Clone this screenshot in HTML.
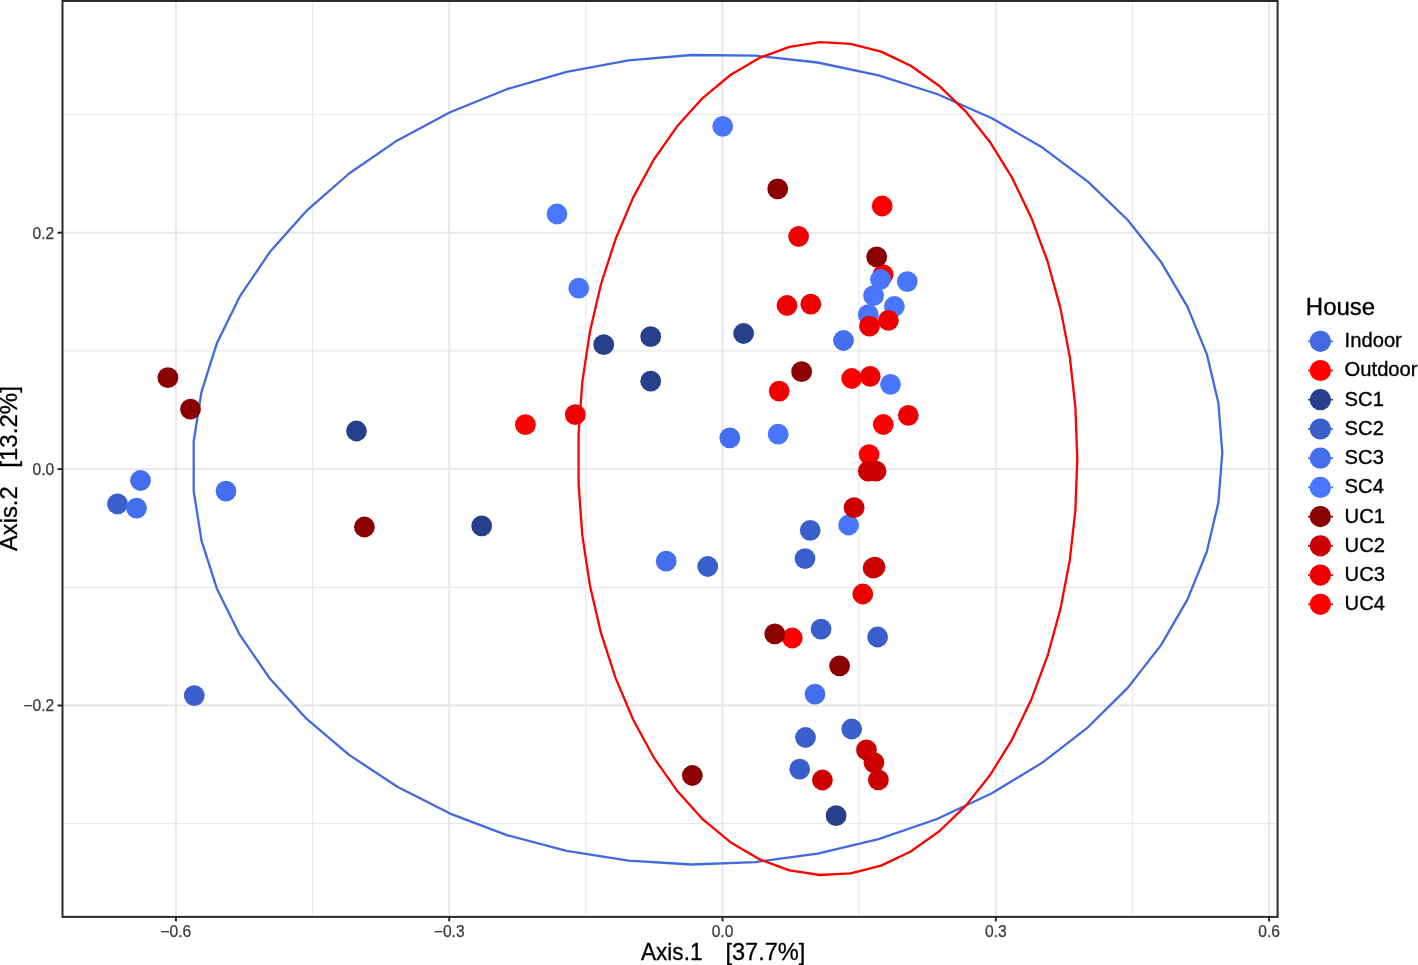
<!DOCTYPE html>
<html lang="en"><head><meta charset="utf-8"><title>PCoA plot</title>
<style>html,body{margin:0;padding:0;background:#fff}body{width:1418px;height:965px;overflow:hidden}svg{display:block}</style></head>
<body>
<svg width="1418" height="965" viewBox="0 0 1418 965" font-family="'Liberation Sans', Arial, Helvetica, sans-serif">
<rect width="1418" height="965" fill="#fff"/>
<g stroke="#e9e9e9" stroke-width="1.2">
<line x1="312.6" y1="1" x2="312.6" y2="916.9"/>
<line x1="585.9" y1="1" x2="585.9" y2="916.9"/>
<line x1="859.1" y1="1" x2="859.1" y2="916.9"/>
<line x1="1132.5" y1="1" x2="1132.5" y2="916.9"/>
<line x1="62.5" y1="114.5" x2="1277.6" y2="114.5"/>
<line x1="62.5" y1="350.9" x2="1277.6" y2="350.9"/>
<line x1="62.5" y1="587.3" x2="1277.6" y2="587.3"/>
<line x1="62.5" y1="823.7" x2="1277.6" y2="823.7"/>
</g>
<g stroke="#e8e8e8" stroke-width="2">
<line x1="175.9" y1="1" x2="175.9" y2="916.9"/>
<line x1="449.2" y1="1" x2="449.2" y2="916.9"/>
<line x1="722.5" y1="1" x2="722.5" y2="916.9"/>
<line x1="995.8" y1="1" x2="995.8" y2="916.9"/>
<line x1="1269.1" y1="1" x2="1269.1" y2="916.9"/>
<line x1="62.5" y1="232.7" x2="1277.6" y2="232.7"/>
<line x1="62.5" y1="469.1" x2="1277.6" y2="469.1"/>
<line x1="62.5" y1="705.5" x2="1277.6" y2="705.5"/>
</g>
<polygon points="1222.3,452.7 1218.4,502.5 1206.8,551.7 1187.5,599.4 1161.0,645.1 1127.7,687.9 1087.9,727.3 1042.4,762.6 991.9,793.3 937.0,819.0 878.6,839.2 817.6,853.6 755.0,862.1 691.6,864.5 628.5,860.7 566.6,850.8 506.8,835.1 450.1,813.6 397.3,786.7 349.1,754.9 306.4,718.7 269.8,678.5 239.8,634.9 216.9,588.7 201.5,540.6 193.7,491.2 193.7,441.4 201.5,391.8 216.9,343.2 239.8,296.4 269.8,252.1 306.4,210.9 349.1,173.5 397.3,140.4 450.1,112.2 506.8,89.2 566.6,71.9 628.5,60.4 691.6,55.0 755.0,55.7 817.6,62.5 878.6,75.3 937.0,94.0 991.9,118.2 1042.4,147.6 1087.9,181.7 1127.7,220.0 1161.0,261.9 1187.5,306.9 1206.8,354.1 1218.4,403.0 1222.3,452.7" fill="none" stroke="#4169E1" stroke-width="2.3" stroke-linejoin="round"/>
<polygon points="1077.3,458.6 1075.4,509.8 1069.8,560.2 1060.4,609.1 1047.6,655.7 1031.4,699.3 1012.2,739.3 990.1,775.0 965.6,805.9 939.0,831.5 910.7,851.5 881.1,865.6 850.7,873.4 820.0,875.0 789.4,870.3 759.4,859.3 730.4,842.2 702.9,819.4 677.3,791.1 653.9,757.7 633.2,719.8 615.5,677.9 600.9,632.7 589.8,584.9 582.3,535.2 578.6,484.2 578.6,433.0 582.3,382.0 589.8,332.3 600.9,284.5 615.5,239.3 633.2,197.4 653.9,159.5 677.3,126.1 702.9,97.8 730.4,75.0 759.4,57.9 789.4,46.9 820.0,42.2 850.7,43.8 881.1,51.6 910.7,65.7 939.0,85.7 965.6,111.3 990.1,142.2 1012.2,177.9 1031.4,217.9 1047.6,261.5 1060.4,308.1 1069.8,357.0 1075.4,407.4 1077.3,458.6" fill="none" stroke="#FF0000" stroke-width="2.3" stroke-linejoin="round"/>
<g>
<circle cx="883.1" cy="274.6" r="10.4" fill="#FF0000"/>
<circle cx="873.6" cy="295.7" r="10.4" fill="#4876FF"/>
<circle cx="880.5" cy="279.5" r="10.4" fill="#4876FF"/>
<circle cx="907.3" cy="281.6" r="10.4" fill="#4876FF"/>
<circle cx="894.4" cy="306.3" r="10.4" fill="#4876FF"/>
<circle cx="868.3" cy="314.7" r="10.4" fill="#4876FF"/>
<circle cx="888.4" cy="320.3" r="10.4" fill="#EE0000"/>
<circle cx="869.5" cy="326.2" r="10.4" fill="#EE0000"/>
<circle cx="876.7" cy="256.9" r="10.4" fill="#8B0000"/>
<circle cx="851.7" cy="378.5" r="10.4" fill="#FF0000"/>
<circle cx="890.5" cy="384.3" r="10.4" fill="#4876FF"/>
<circle cx="870.2" cy="376.3" r="10.4" fill="#EE0000"/>
<circle cx="848.6" cy="525" r="10.4" fill="#4876FF"/>
<circle cx="854.1" cy="507.6" r="10.4" fill="#CD0000"/>
<circle cx="792.3" cy="638" r="10.4" fill="#FF0000"/>
<circle cx="774.8" cy="633.8" r="10.4" fill="#8B0000"/>
<circle cx="167.9" cy="377.7" r="10.4" fill="#8B0000"/>
<circle cx="190.5" cy="409.2" r="10.4" fill="#8B0000"/>
<circle cx="364.4" cy="527" r="10.4" fill="#8B0000"/>
<circle cx="777.7" cy="188.9" r="10.4" fill="#8B0000"/>
<circle cx="801.6" cy="371.7" r="10.4" fill="#8B0000"/>
<circle cx="839.6" cy="665.8" r="10.4" fill="#8B0000"/>
<circle cx="692.3" cy="775.5" r="10.4" fill="#8B0000"/>
<circle cx="869.1" cy="454.6" r="10.4" fill="#FF0000"/>
<circle cx="868.3" cy="471.2" r="10.4" fill="#CD0000"/>
<circle cx="876.0" cy="471.2" r="10.4" fill="#CD0000"/>
<circle cx="873.1" cy="568.0" r="10.4" fill="#CD0000"/>
<circle cx="875.0" cy="567.2" r="10.4" fill="#CD0000"/>
<circle cx="866.5" cy="749.9" r="10.4" fill="#CD0000"/>
<circle cx="873.9" cy="762.6" r="10.4" fill="#CD0000"/>
<circle cx="878.4" cy="779.8" r="10.4" fill="#CD0000"/>
<circle cx="822.4" cy="780" r="10.4" fill="#CD0000"/>
<circle cx="798.6" cy="236.5" r="10.4" fill="#EE0000"/>
<circle cx="787" cy="305.5" r="10.4" fill="#EE0000"/>
<circle cx="810.8" cy="304.2" r="10.4" fill="#EE0000"/>
<circle cx="779.2" cy="391.1" r="10.4" fill="#EE0000"/>
<circle cx="908.3" cy="415.3" r="10.4" fill="#EE0000"/>
<circle cx="575.3" cy="414.7" r="10.4" fill="#EE0000"/>
<circle cx="862.8" cy="594" r="10.4" fill="#EE0000"/>
<circle cx="882.2" cy="206" r="10.4" fill="#FF0000"/>
<circle cx="883.3" cy="424.5" r="10.4" fill="#FF0000"/>
<circle cx="525.4" cy="424.7" r="10.4" fill="#FF0000"/>
<circle cx="356.5" cy="431" r="10.4" fill="#27408B"/>
<circle cx="481.7" cy="525.9" r="10.4" fill="#27408B"/>
<circle cx="603.7" cy="344.7" r="10.4" fill="#27408B"/>
<circle cx="650.7" cy="336.7" r="10.4" fill="#27408B"/>
<circle cx="650.7" cy="381.2" r="10.4" fill="#27408B"/>
<circle cx="743.6" cy="333.5" r="10.4" fill="#27408B"/>
<circle cx="836.1" cy="815.7" r="10.4" fill="#27408B"/>
<circle cx="117.5" cy="503.8" r="10.4" fill="#3A5FCD"/>
<circle cx="194.3" cy="695.6" r="10.4" fill="#3A5FCD"/>
<circle cx="810.2" cy="530.3" r="10.4" fill="#3A5FCD"/>
<circle cx="805" cy="558.6" r="10.4" fill="#3A5FCD"/>
<circle cx="707.7" cy="566.5" r="10.4" fill="#3A5FCD"/>
<circle cx="821.1" cy="629.1" r="10.4" fill="#3A5FCD"/>
<circle cx="877.6" cy="637" r="10.4" fill="#3A5FCD"/>
<circle cx="851.7" cy="729" r="10.4" fill="#3A5FCD"/>
<circle cx="805.5" cy="737.5" r="10.4" fill="#3A5FCD"/>
<circle cx="799.7" cy="769.2" r="10.4" fill="#3A5FCD"/>
<circle cx="136.5" cy="508.2" r="10.4" fill="#436EEE"/>
<circle cx="140.5" cy="480.5" r="10.4" fill="#436EEE"/>
<circle cx="226" cy="491.1" r="10.4" fill="#436EEE"/>
<circle cx="729.8" cy="437.8" r="10.4" fill="#436EEE"/>
<circle cx="666.2" cy="561.2" r="10.4" fill="#436EEE"/>
<circle cx="815" cy="694.1" r="10.4" fill="#436EEE"/>
<circle cx="843.5" cy="340.5" r="10.4" fill="#436EEE"/>
<circle cx="578.8" cy="288.2" r="10.4" fill="#4876FF"/>
<circle cx="722.7" cy="126.3" r="10.4" fill="#4876FF"/>
<circle cx="557" cy="214" r="10.4" fill="#4876FF"/>
<circle cx="778.2" cy="434.2" r="10.4" fill="#4876FF"/>
</g>
<rect x="62.5" y="1" width="1215.1" height="915.9" fill="none" stroke="#2a2a2a" stroke-width="2"/>
<g stroke="#2a2a2a" stroke-width="2">
<line x1="175.9" y1="916.9" x2="175.9" y2="921.4"/>
<line x1="449.2" y1="916.9" x2="449.2" y2="921.4"/>
<line x1="722.5" y1="916.9" x2="722.5" y2="921.4"/>
<line x1="995.8" y1="916.9" x2="995.8" y2="921.4"/>
<line x1="1269.1" y1="916.9" x2="1269.1" y2="921.4"/>
<line x1="57.5" y1="232.7" x2="62.5" y2="232.7"/>
<line x1="57.5" y1="469.1" x2="62.5" y2="469.1"/>
<line x1="57.5" y1="705.5" x2="62.5" y2="705.5"/>
</g>
<g font-size="15.6" fill="#3a3a3a" stroke="#3a3a3a" stroke-width="0.25">
<text x="175.9" y="936.5" text-anchor="middle">−0.6</text>
<text x="449.2" y="936.5" text-anchor="middle">−0.3</text>
<text x="722.5" y="936.5" text-anchor="middle">0.0</text>
<text x="995.8" y="936.5" text-anchor="middle">0.3</text>
<text x="1269.1" y="936.5" text-anchor="middle">0.6</text>
<text x="54.2" y="238.6" text-anchor="end">0.2</text>
<text x="54.2" y="475.0" text-anchor="end">0.0</text>
<text x="54.2" y="711.4" text-anchor="end">−0.2</text>
</g>
<text x="641" y="960" font-size="23.4" fill="#000" stroke="#000" stroke-width="0.3" textLength="61.5" lengthAdjust="spacingAndGlyphs">Axis.1</text>
<text x="725.4" y="960" font-size="23.4" fill="#000" stroke="#000" stroke-width="0.3" textLength="80" lengthAdjust="spacingAndGlyphs">[37.7%]</text>
<text transform="translate(17.0,551) rotate(-90)" font-size="23.4" fill="#000" stroke="#000" stroke-width="0.3" textLength="64.6" lengthAdjust="spacingAndGlyphs">Axis.2</text>
<text transform="translate(17.0,467.7) rotate(-90)" font-size="23.4" fill="#000" stroke="#000" stroke-width="0.3" textLength="81.6" lengthAdjust="spacingAndGlyphs">[13.2%]</text>
<text x="1305.8" y="314.8" font-size="24" fill="#000" stroke="#000" stroke-width="0.35">House</text>
<line x1="1308" y1="341.3" x2="1333" y2="341.3" stroke="#4169E1" stroke-width="1.6"/>
<circle cx="1320.4" cy="341.3" r="10.6" fill="#4169E1"/>
<text x="1344.6" y="347.2" font-size="20.2" fill="#000" stroke="#000" stroke-width="0.35">Indoor</text>
<line x1="1308" y1="370.5" x2="1333" y2="370.5" stroke="#FF0000" stroke-width="1.6"/>
<circle cx="1320.4" cy="370.5" r="10.6" fill="#FF0000"/>
<text x="1344.6" y="376.4" font-size="20.2" fill="#000" stroke="#000" stroke-width="0.35">Outdoor</text>
<line x1="1308" y1="399.7" x2="1333" y2="399.7" stroke="#27408B" stroke-width="1.6"/>
<circle cx="1320.4" cy="399.7" r="10.6" fill="#27408B"/>
<text x="1344.6" y="405.6" font-size="20.2" fill="#000" stroke="#000" stroke-width="0.35">SC1</text>
<line x1="1308" y1="429.0" x2="1333" y2="429.0" stroke="#3A5FCD" stroke-width="1.6"/>
<circle cx="1320.4" cy="429.0" r="10.6" fill="#3A5FCD"/>
<text x="1344.6" y="434.9" font-size="20.2" fill="#000" stroke="#000" stroke-width="0.35">SC2</text>
<line x1="1308" y1="458.2" x2="1333" y2="458.2" stroke="#436EEE" stroke-width="1.6"/>
<circle cx="1320.4" cy="458.2" r="10.6" fill="#436EEE"/>
<text x="1344.6" y="464.1" font-size="20.2" fill="#000" stroke="#000" stroke-width="0.35">SC3</text>
<line x1="1308" y1="487.4" x2="1333" y2="487.4" stroke="#4876FF" stroke-width="1.6"/>
<circle cx="1320.4" cy="487.4" r="10.6" fill="#4876FF"/>
<text x="1344.6" y="493.3" font-size="20.2" fill="#000" stroke="#000" stroke-width="0.35">SC4</text>
<line x1="1308" y1="516.6" x2="1333" y2="516.6" stroke="#8B0000" stroke-width="1.6"/>
<circle cx="1320.4" cy="516.6" r="10.6" fill="#8B0000"/>
<text x="1344.6" y="522.5" font-size="20.2" fill="#000" stroke="#000" stroke-width="0.35">UC1</text>
<line x1="1308" y1="545.8" x2="1333" y2="545.8" stroke="#CD0000" stroke-width="1.6"/>
<circle cx="1320.4" cy="545.8" r="10.6" fill="#CD0000"/>
<text x="1344.6" y="551.7" font-size="20.2" fill="#000" stroke="#000" stroke-width="0.35">UC2</text>
<line x1="1308" y1="575.1" x2="1333" y2="575.1" stroke="#EE0000" stroke-width="1.6"/>
<circle cx="1320.4" cy="575.1" r="10.6" fill="#EE0000"/>
<text x="1344.6" y="581.0" font-size="20.2" fill="#000" stroke="#000" stroke-width="0.35">UC3</text>
<line x1="1308" y1="604.3" x2="1333" y2="604.3" stroke="#FF0000" stroke-width="1.6"/>
<circle cx="1320.4" cy="604.3" r="10.6" fill="#FF0000"/>
<text x="1344.6" y="610.2" font-size="20.2" fill="#000" stroke="#000" stroke-width="0.35">UC4</text>
</svg>
</body></html>
